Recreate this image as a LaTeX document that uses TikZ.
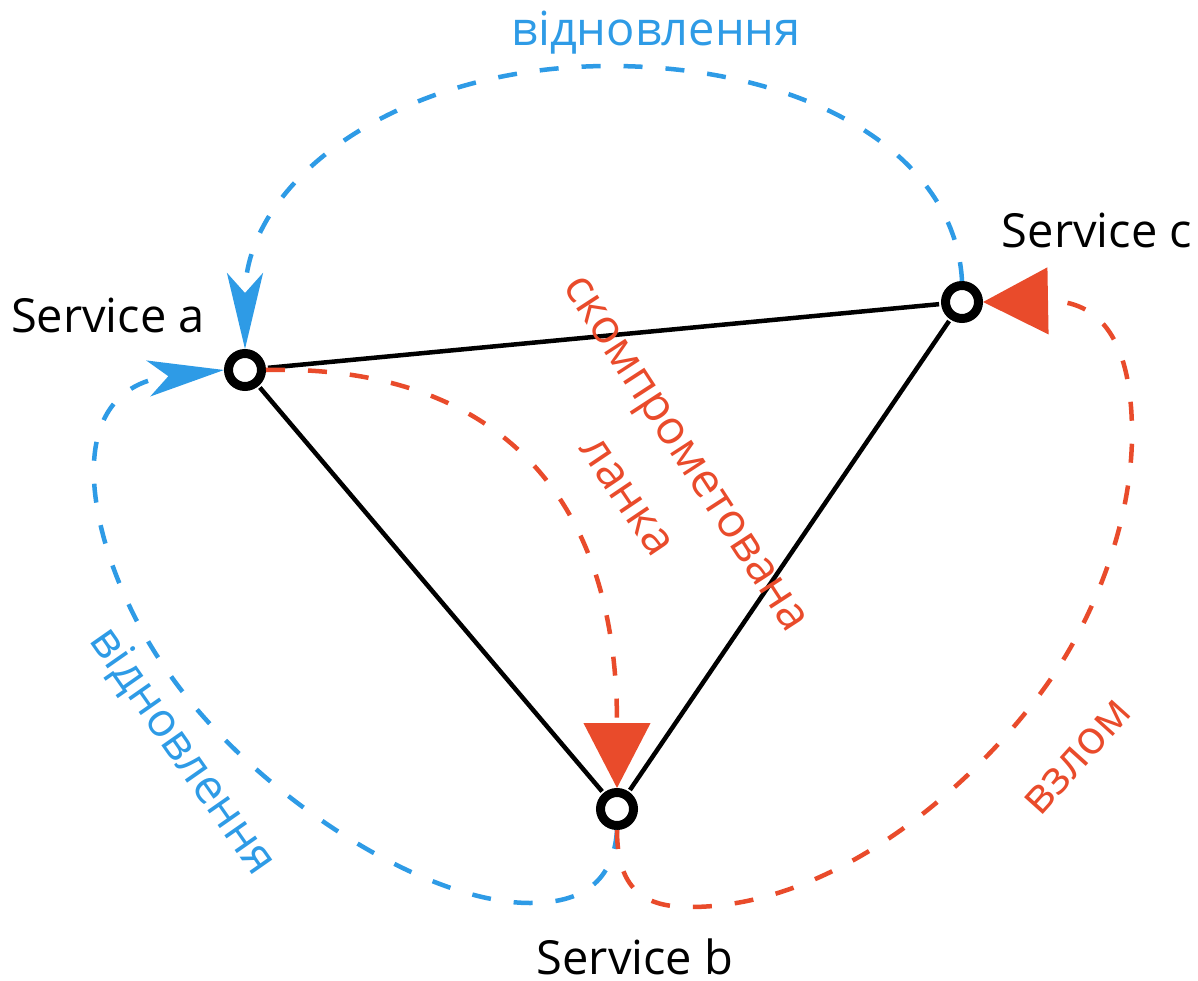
\documentclass[tikz,border=0pt]{standalone}
\usepackage{fontspec}
\setmainfont{Open Sans}
\usetikzlibrary{arrows.meta}
\definecolor{linkblue}{HTML}{2E9BE6}
\definecolor{linkred}{HTML}{E94B2B}
\begin{document}
\begin{tikzpicture}[x=1pt,y=-1pt,
  svc/.style={circle,draw=black,line width=9pt,fill=white,minimum size=33pt,inner sep=0pt},
  lbl/.style={font=\fontsize{47}{51}\selectfont,inner sep=0pt},
  edge/.style={line width=4.5pt,black,shorten <=2pt,shorten >=2pt},
  flow/.style={line width=4.5pt,dash pattern=on 19pt off 23pt},
  bluetip/.style={-{Stealth[length=76pt,width=36pt,inset=20pt]}},
  redtip/.style={-{Triangle[length=65pt,width=66pt]}}]
\useasboundingbox (0,0) rectangle (1198,981);

% services
\node[svc] (a) at (245,370) {};
\node[svc] (c) at (962,302) {};
\node[svc] (b) at (617,809) {};

\node[lbl] (la) at (108,315) {Service a};
\node[lbl] (lc) at (1097,230) {Service c};
\node[lbl] (lb) at (635,957) {Service b};

% links between services
\draw[edge] (a) -- (c);
\draw[edge] (a) -- (b);
\draw[edge] (c) -- (b);

% recovery paths
\draw[flow,linkblue,bluetip] (c.north)
  .. controls (955,150) and (800,66) .. (610,66)
  .. controls (400,66) and (245,180) .. (a.north);
\draw[flow,linkblue,bluetip] (b.south)
  .. controls (614,875) and (590,903) .. (530,903)
  .. controls (420,903) and (250,790) .. (168,672)
  .. controls (95,570) and (45,390) .. (a.west);

% compromise paths
\draw[flow,linkred,redtip] (a.east)
  .. controls (460,365) and (617,460) .. (b.north);
\draw[flow,linkred,redtip] (b.south)
  .. controls (617,895) and (650,907) .. (690,907)
  .. controls (850,907) and (1000,760) .. (1060,665)
  .. controls (1095,610) and (1133,520) .. (1132,430)
  .. controls (1131,340) and (1100,300) .. (c.east);

% path labels
\node[lbl,text=linkblue] (t1) at (656,33) {відновлення};
\node[lbl,text=linkblue,rotate=-55] (t2) at (182,752) {відновлення};
\node[lbl,text=linkred,rotate=-57] (t3) at (681,457) {скомпрометована};
\node[lbl,text=linkred,rotate=-56] (t4) at (626,497) {ланка};
\node[lbl,text=linkred,rotate=48] (t5) at (1078,757) {взлом};
\end{tikzpicture}
\end{document}
